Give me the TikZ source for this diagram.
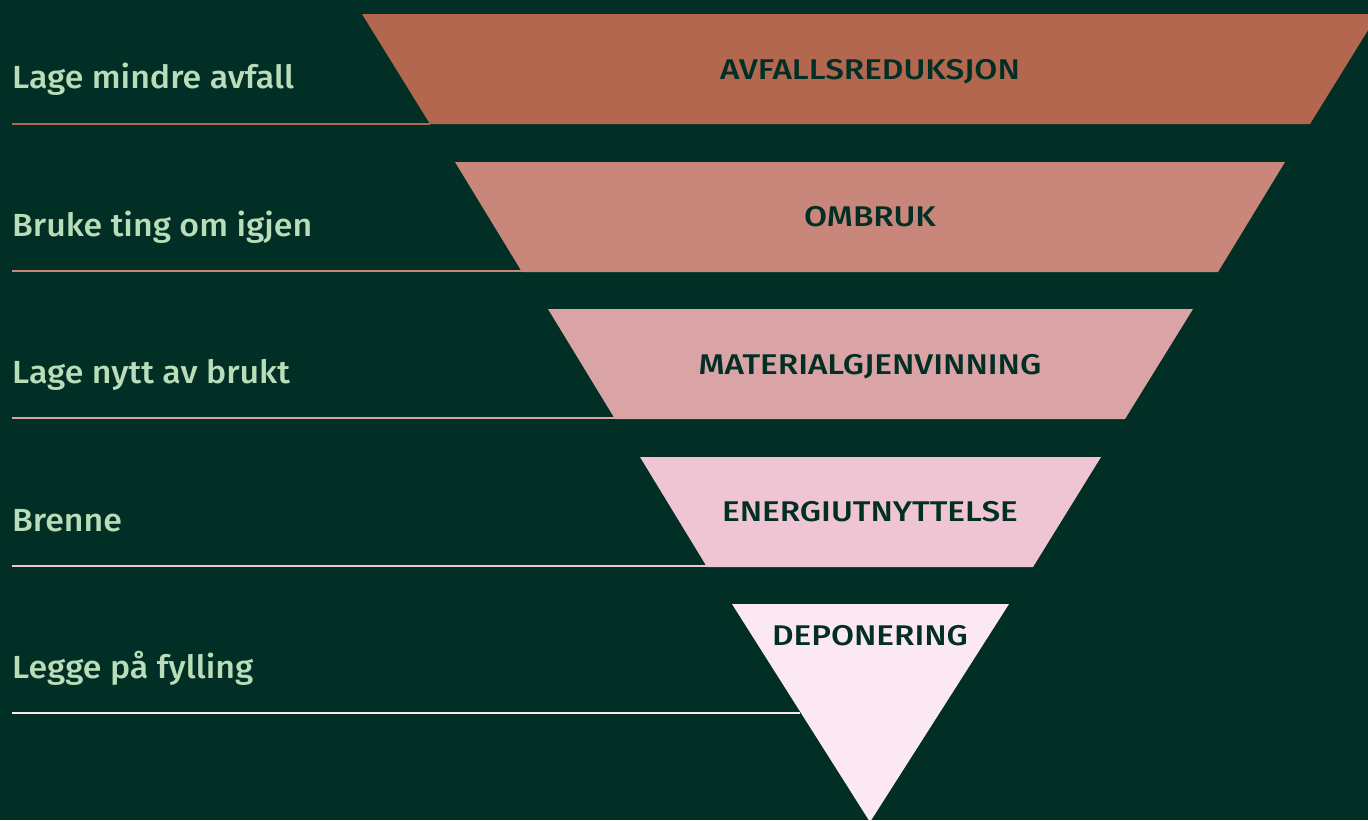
\documentclass[tikz,border=0pt]{standalone}
\usepackage{fontspec}
\setmainfont{Fira Sans Medium}
\newfontfamily\leftfont[FakeStretch=1.06]{Fira Sans Medium}
\newfontfamily\rightfont[FakeStretch=1.17]{Fira Sans Medium}
\definecolor{bg}{HTML}{012F25}
\definecolor{cA}{HTML}{B3674F}
\definecolor{cB}{HTML}{C8877A}
\definecolor{cC}{HTML}{DAA3A5}
\definecolor{cD}{HTML}{EFC4D3}
\definecolor{cE}{HTML}{FCE8F0}
\definecolor{lbl}{HTML}{B8DDB8}
\tikzset{
  leftlbl/.style={anchor=base west, inner sep=0pt, text=lbl, font=\leftfont\fontsize{32}{38}\selectfont},
  rightlbl/.style={anchor=base, inner sep=0pt, text=bg, font=\rightfont\fontsize{28.5}{34}\selectfont},
  rule/.style={line width=2.2pt}
}
\begin{document}
\begin{tikzpicture}[x=1pt,y=-1pt]
\fill[bg] (0,0) rectangle (1368,820);
\useasboundingbox (0,0) rectangle (1368,820);
\begin{scope}
\clip (0,0) rectangle (1368,820);
% lines
\draw[rule,cA] (12,124) -- (430,124);
\draw[rule,cB] (12,271) -- (522,271);
\draw[rule,cC] (12,418) -- (615,418);
\draw[rule,cD] (12,566) -- (707,566);
\draw[rule,cE] (12,713) -- (800,713);
% shapes
\fill[cA] (362,14) -- (1378,14) -- (1310,124) -- (430,124) -- cycle;
\fill[cB] (455,162) -- (1285,162) -- (1218,272) -- (522,272) -- cycle;
\fill[cC] (548,309) -- (1193,309) -- (1125,419) -- (615,419) -- cycle;
\fill[cD] (640,457) -- (1101,457) -- (1033,567) -- (707,567) -- cycle;
\fill[cE] (732,604) -- (1009,604) -- (870,822) -- cycle;
\end{scope}
% left labels
\node[leftlbl] (l1) at (12,88) {Lage mindre avfall};
\node[leftlbl] (l2) at (12,236) {Bruke ting om igjen};
\node[leftlbl] (l3) at (12,383) {Lage nytt av brukt};
\node[leftlbl] (l4) at (12,531) {Brenne};
\node[leftlbl] (l5) at (12,678) {Legge på fylling};
% right labels
\node[rightlbl] (r1) at (870,79) {AVFALLSREDUKSJON};
\node[rightlbl] (r2) at (870,226) {OMBRUK};
\node[rightlbl] (r3) at (870,374) {MATERIALGJENVINNING};
\node[rightlbl] (r4) at (870,521) {ENERGIUTNYTTELSE};
\node[rightlbl] (r5) at (870,645) {DEPONERING};
\end{tikzpicture}
\end{document}
